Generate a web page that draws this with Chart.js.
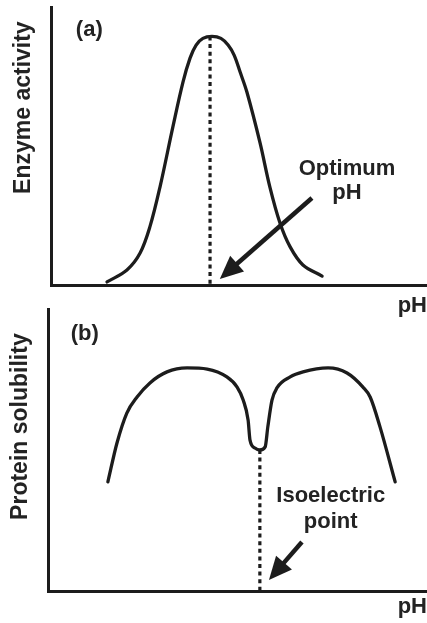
<!DOCTYPE html>
<html><head><meta charset="utf-8">
<script src="https://cdn.jsdelivr.net/npm/chart.js@4.4.1/dist/chart.umd.min.js"></script>
<style>
html,body{margin:0;padding:0;background:#fff;}
body{width:427px;height:623px;position:relative;overflow:hidden;}
#wrapA{position:absolute;left:0;top:0;width:427px;height:325px;}
#wrapB{position:absolute;left:0;top:300px;width:427px;height:323px;}
canvas{display:block;}
</style></head><body>
<div id="wrapB"><canvas id="chartB" width="427" height="323"></canvas></div>
<div id="wrapA"><canvas id="chartA" width="427" height="325"></canvas></div>
<script>
// ---- Panel (a): enzyme activity vs pH (arbitrary units 0-100) ----
const phA = [14.9, 20.2, 23.7, 26.3, 29.0, 32.4, 35.1, 37.0, 38.6, 40.4, 42.8, 45.2, 47.1, 48.7, 50.3, 52.1, 55.6, 58.2, 60.9, 63.6, 67.0, 72.1];
const activityA = [1.1, 5.4, 11.5, 20.9, 35.3, 56.8, 73.0, 81.7, 86.3, 88.7, 89.4, 88.7, 86.3, 82.7, 76.6, 69.4, 51.1, 35.3, 22.3, 13.7, 7.2, 3.2];
const optimumPH = 42.3;
const optimumTop = 89.4;

// ---- Panel (b): protein solubility vs pH ----
const phB = [15.8, 18.2, 20.8, 23.5, 26.9, 31.4, 36.7, 42.0, 47.2, 49.9, 51.5, 52.8, 53.3, 54.6, 55.9, 57.3, 58.0, 59.1, 60.4, 63.9, 67.3, 73.9, 78.9, 83.1, 85.0, 87.6, 91.6];
const solubilityB = [38.7, 52.5, 63.1, 68.8, 73.8, 77.7, 79.1, 78.7, 75.9, 72.3, 67.7, 60.6, 53.5, 50.7, 50.0, 51.1, 58.2, 67.7, 72.0, 75.9, 77.7, 79.1, 77.3, 72.3, 68.8, 58.2, 38.7];
const isoelectricPH = 55.9;
const isoelectricTop = 50.0;

// ---- Text labels ----
const yTitleA = 'Enzyme activity';
const yTitleB = 'Protein solubility';
const xTitle = 'pH';
const panelLabelA = '(a)';
const panelLabelB = '(b)';
const noteA = ['Optimum', 'pH'];
const noteB = ['Isoelectric', 'point'];

// ---- Annotation positions (data units) ----
const noteAPos = {x: 78.7, y: [39.7, 30.8]};
const noteBPos = {x: 74.6, y: [31.5, 22.2]};
const panelLabelAPos = {x: 6.6, y: 89.5};
const panelLabelBPos = {x: 6.0, y: 88.9};
const arrowA = {from: [69.4, 31.3], to: [44.9, 2.2]};
const arrowB = {from: [67.0, 17.4], to: [58.3, 3.9]};
const yTitleAPos = 63.8;
const yTitleBPos = 58.3;

const INK = '#1c1c1c';
const TEXT = '#232323';
const FONT = '"Liberation Sans", Arial, Helvetica, sans-serif';

const notesPlugin = {
  id: 'panelNotes',
  afterDraw(chart, args, opts) {
    const ctx = chart.ctx;
    const xs = chart.scales.x, ys = chart.scales.y;
    ctx.save();
    ctx.fillStyle = TEXT;
    // y-axis title
    ctx.save();
    ctx.translate(chart.chartArea.left - 21, ys.getPixelForValue(opts.yTitlePos));
    ctx.rotate(-Math.PI / 2);
    ctx.font = 'bold 23px ' + FONT;
    ctx.textAlign = 'center';
    ctx.textBaseline = 'alphabetic';
    ctx.fillText(opts.yTitle, 0, 0);
    ctx.restore();
    // panel label
    ctx.font = 'bold 22px ' + FONT;
    ctx.textAlign = 'left';
    ctx.textBaseline = 'alphabetic';
    ctx.fillText(opts.panel, xs.getPixelForValue(opts.panelPos.x), ys.getPixelForValue(opts.panelPos.y));
    // note
    ctx.textAlign = 'center';
    opts.note.forEach((t, i) => {
      ctx.fillText(t, xs.getPixelForValue(opts.notePos.x), ys.getPixelForValue(opts.notePos.y[i]));
    });
    // arrow
    const x0 = xs.getPixelForValue(opts.arrow.from[0]), y0 = ys.getPixelForValue(opts.arrow.from[1]);
    const x1 = xs.getPixelForValue(opts.arrow.to[0]), y1 = ys.getPixelForValue(opts.arrow.to[1]);
    const dx = x1 - x0, dy = y1 - y0, L = Math.hypot(dx, dy);
    const ux = dx / L, uy = dy / L, nx = -uy, ny = ux;
    const headLen = 23, headW = 10.5;
    const bx = x1 - ux * headLen, by = y1 - uy * headLen;
    ctx.strokeStyle = INK;
    ctx.lineWidth = 4.5;
    ctx.lineCap = 'butt';
    ctx.beginPath();
    ctx.moveTo(x0, y0);
    ctx.lineTo(bx + ux * 2, by + uy * 2);
    ctx.stroke();
    ctx.fillStyle = INK;
    ctx.beginPath();
    ctx.moveTo(x1, y1);
    ctx.lineTo(bx + nx * headW, by + ny * headW);
    ctx.lineTo(bx - nx * headW, by - ny * headW);
    ctx.closePath();
    ctx.fill();
    ctx.restore();
  }
};

function makeChart(id, xsVals, ysVals, dropX, dropTop, leftW, bottomH, padTop, titlePadBottom, interp, notes) {
  const curve = {
    data: xsVals.map((x, i) => ({x, y: ysVals[i]})),
    borderColor: INK, borderWidth: 3.3, pointRadius: 0, fill: false,
    borderCapStyle: 'round', borderJoinStyle: 'round'
  };
  if (interp === 'monotone') curve.cubicInterpolationMode = 'monotone';
  else curve.tension = interp;
  return new Chart(document.getElementById(id), {
    type: 'line',
    data: {
      datasets: [
        curve,
        {
          data: [{x: dropX, y: dropTop}, {x: dropX, y: 0}],
          borderColor: INK, borderWidth: 3.2, borderDash: [4, 3.6], pointRadius: 0, fill: false
        }
      ]
    },
    options: {
      responsive: false, animation: false, events: [],
      layout: {padding: {top: padTop, right: 0, bottom: 0, left: 0}},
      plugins: {legend: {display: false}, tooltip: {enabled: false}, panelNotes: notes},
      scales: {
        x: {
          type: 'linear', min: 0, max: 100,
          grid: {display: false}, ticks: {display: false},
          border: {display: true, color: INK, width: 3},
          title: {display: true, text: xTitle, align: 'end', color: TEXT,
                  font: {family: FONT, size: 22, weight: 'bold'}, padding: {top: 0, bottom: titlePadBottom}},
          afterFit(s) { s.height = bottomH; }
        },
        y: {
          type: 'linear', min: 0, max: 100,
          grid: {display: false}, ticks: {display: false},
          border: {display: true, color: INK, width: 3},
          afterFit(s) { s.width = leftW; }
        }
      }
    },
    plugins: [notesPlugin]
  });
}

makeChart('chartA', phA, activityA, optimumPH, optimumTop, 51, 40, 7, 6, 0.35,
  {yTitle: yTitleA, yTitlePos: yTitleAPos, panel: panelLabelA, panelPos: panelLabelAPos,
   note: noteA, notePos: noteAPos, arrow: arrowA});
makeChart('chartB', phB, solubilityB, isoelectricPH, isoelectricTop, 48, 32, 9, 3, 'monotone',
  {yTitle: yTitleB, yTitlePos: yTitleBPos, panel: panelLabelB, panelPos: panelLabelBPos,
   note: noteB, notePos: noteBPos, arrow: arrowB});
</script>
</body></html>
